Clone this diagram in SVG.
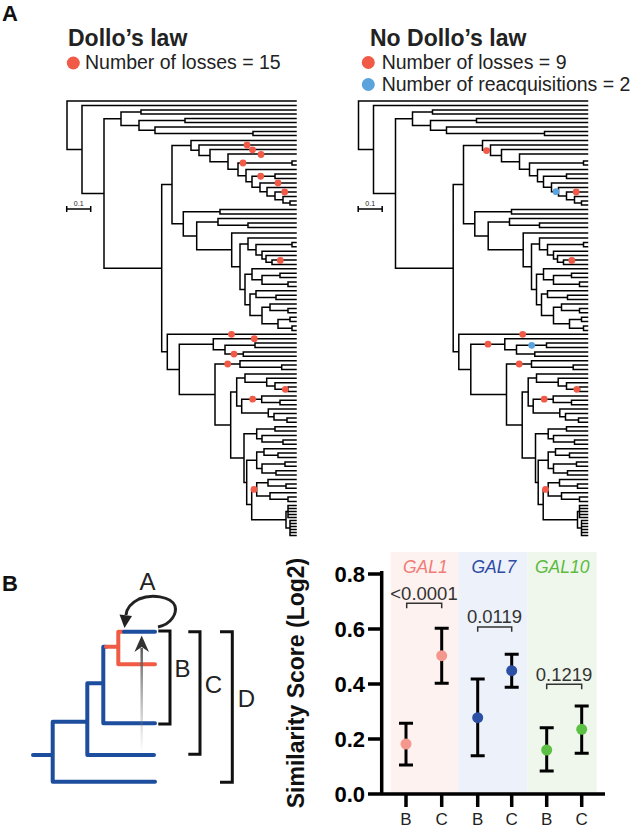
<svg xmlns="http://www.w3.org/2000/svg" width="632" height="829" viewBox="0 0 632 829">
<style>
text{font-family:"Liberation Sans",Arial,sans-serif}
.t{fill:none;stroke:#000;stroke-width:1.5;stroke-linecap:square}
.r{fill:#F05A46}
.bl{fill:#5BA3DC}
.ttl{font-size:23px;font-weight:bold;fill:#222}
.lg{font-size:19.5px;fill:#222}
.pl{font-size:22px;font-weight:bold;fill:#111}
.bt{fill:none;stroke:#1D4E9E;stroke-width:4;stroke-linecap:round}
.rt{fill:none;stroke:#EF5B45;stroke-width:4;stroke-linecap:round}
.br{fill:none;stroke:#111;stroke-width:3}
.lt{font-size:24px;fill:#222;text-anchor:middle}
.ax{fill:none;stroke:#000;stroke-width:3.5}
.tk{font-size:22px;font-weight:bold;text-anchor:end;fill:#000}
.xl{font-size:17px;text-anchor:middle;fill:#222}
.eb{fill:none;stroke:#000;stroke-width:3}
.sg{fill:none;stroke:#333;stroke-width:1.5}
.sv{font-size:18.5px;text-anchor:middle;fill:#333}
.gal{font-size:17.5px;font-style:italic}
</style>
<defs>
<linearGradient id="ga" gradientUnits="userSpaceOnUse" x1="0" y1="752" x2="0" y2="645">
<stop offset="0" stop-color="#888" stop-opacity="0"/>
<stop offset="1" stop-color="#555" stop-opacity="1"/>
</linearGradient>
<g id="tree">
<path class="t" d="M67 101V149.5M67 101H296M67 149.5H82
M82 105.5V193.45M82 105.5H296M82 193.45H104
M104 118.7V268.2M104 118.7H121M104 268.2H161.7
M121 112V125.4M121 112H141M121 125.4H139
M141 110V114M141 110H296M141 114H296
M139 120.5V130.25M139 120.5H185M139 130.25H155
M185 118.5V122.5M185 118.5H296M185 122.5H296
M155 127V133.5M155 127H296M155 133.5H253
M253 131.5V135.5M253 131.5H296M253 135.5H296
M161.7 184.6V351.85M161.7 184.6H172M161.7 351.85H167.3
M172 145.4V223.8M172 145.4H191M172 223.8H183.3
M191 140.5V150.3M191 140.5H296M191 150.3H199
M199 145V155.6M199 145H296M199 155.6H210
M210 149.5V161.7M210 149.5H296M210 161.7H228
M228 154V169.3M228 154H296M228 169.3H238
M238 163V175.65M238 163H292M238 175.65H246
M292 161V165M292 161H296M292 165H296
M246 169.5V181.8M246 169.5H296M246 181.8H252
M252 176.25V187.35M252 176.25H275M252 187.35H260
M275 174V178.5M275 174H296M275 178.5H296
M260 183V191.7M260 183H296M260 191.7H267
M267 187.5V195.9M267 187.5H296M267 195.9H275
M275 192V199.75M275 192H296M275 199.75H283
M283 196.5V203M283 196.5H296M283 203H290
M290 201V205M290 201H296M290 205H296
M183.3 211.75V235.9M183.3 211.75H220M183.3 235.9H196.7
M220 209.5V214M220 209.5H296M220 214H296
M196.7 221.9V249.85M196.7 221.9H218M196.7 249.85H231.7
M218 218.5V225.25M218 218.5H296M218 225.25H248
M248 223V227.5M248 223H296M248 227.5H296
M231.7 233V266.7M231.7 233H296M231.7 266.7H240
M240 243.9V289.55M240 243.9H248M240 289.55H245
M248 238V249.8M248 238H296M248 249.8H256
M256 244.6V255.05M256 244.6H292M256 255.05H262
M292 242.4V246.8M292 242.4H296M292 246.8H296
M262 251.2V258.9M262 251.2H296M262 258.9H266
M266 255.6V262.2M266 255.6H296M266 262.2H272
M272 260V264.4M272 260H296M272 264.4H296
M245 274.3V304.8M245 274.3H252M245 304.8H250
M252 268.8V279.8M252 268.8H296M252 279.8H262
M262 275.4V284.2M262 275.4H280M262 284.2H288
M280 273.2V277.6M280 273.2H296M280 277.6H296
M288 282V286.4M288 282H296M288 286.4H296
M250 294.1V315.55M250 294.1H256M250 315.55H262
M256 290.8V297.4M256 290.8H296M256 297.4H276
M276 295.2V299.6M276 295.2H296M276 299.6H296
M262 307.3V323.8M262 307.3H270M262 323.8H278
M270 304V310.6M270 304H296M270 310.6H288
M288 308.4V312.8M288 308.4H296M288 312.8H296
M278 319.4V328.2M278 319.4H290M278 328.2H292
M290 317.2V321.6M290 317.2H296M290 321.6H296
M292 326V330.4M292 326H296M292 330.4H296
M167.3 334.3V369.4M167.3 334.3H296M167.3 369.4H179.3
M179.3 344.2V394.55M179.3 344.2H213.3M179.3 394.55H215
M213.3 338.7V349.7M213.3 338.7H296M213.3 349.7H225
M225 345.3V354.1M225 345.3H255M225 354.1H243.3
M255 343.1V347.5M255 343.1H296M255 347.5H296
M243.3 351.9V356.3M243.3 351.9H296M243.3 356.3H296
M215 364V425.1M215 364H240M215 425.1H230.7
M240 360.7V367.3M240 360.7H296M240 367.3H281.7
M281.7 365.1V369.5M281.7 365.1H296M281.7 369.5H296
M230.7 392.05V458.1M230.7 392.05H236.7M230.7 458.1H244
M236.7 378V406.1M236.7 378H245M236.7 406.1H241.7
M245 373.9V382.15M245 373.9H296M245 382.15H266.7
M266.7 378.3V386M266.7 378.3H296M266.7 386H275
M275 382.7V389.3M275 382.7H296M275 389.3H288
M288 387.1V391.5M288 387.1H296M288 391.5H296
M241.7 399.2V412.95M241.7 399.2H261.7M241.7 412.95H268.3
M261.7 395.9V402.5M261.7 395.9H296M261.7 402.5H280
M280 400.3V404.7M280 400.3H296M280 404.7H296
M268.3 409.1V416.8M268.3 409.1H296M268.3 416.8H274
M274 413.5V420.1M274 413.5H296M274 420.1H287
M287 417.9V422.3M287 417.9H296M287 422.3H296
M244 433.85V482.4M244 433.85H256.7M244 482.4H246.7
M256.7 428.9V438.8M256.7 428.9H275M256.7 438.8H262
M275 426.7V431.1M275 426.7H296M275 431.1H296
M262 435.5V442.1M262 435.5H296M262 442.1H283
M283 439.9V444.3M283 439.9H296M283 444.3H296
M246.7 460.25V504.6M246.7 460.25H256.7M246.7 504.6H251.7
M256.7 452V468.5M256.7 452H264M256.7 468.5H262
M264 448.7V455.3M264 448.7H296M264 455.3H278
M278 453.1V457.5M278 453.1H296M278 457.5H296
M262 464.1V472.9M262 464.1H285M262 472.9H276
M285 461.9V466.3M285 461.9H296M285 466.3H296
M276 470.7V475.1M276 470.7H296M276 475.1H296
M251.7 489.4V519.75M251.7 489.4H256.7M251.7 519.75H286
M256.7 482.8V496M256.7 482.8H268M256.7 496H270
M268 479.5V486.1M268 479.5H296M268 486.1H286
M286 483.9V488.3M286 483.9H296M286 488.3H296
M270 492.7V499.3M270 492.7H296M270 499.3H288
M288 497.1V501.5M288 497.1H296M288 501.5H296
M286 511.5V528M286 511.5H288M286 528H290
M288 505.5V517.5M288 505.5H296M288 508.5H296M288 511.5H296M288 514.5H296M288 517.5H296
M290 520.5V535.5M290 520.5H296M290 523.5H296M290 526.5H296M290 529.5H296M290 532.5H296M290 535.5H296"/>
<path class="t" d="M66.7 209H90.7M66.7 206.8V211.2M90.7 206.8V211.2"/>
<text x="78.7" y="206" style="font-size:7px;text-anchor:middle;fill:#222">0.1</text>
</g>
</defs>

<text id="labelA" class="pl" x="2" y="21">A</text>

<g id="left-panel">
<text class="ttl" x="68" y="46">Dollo’s law</text>
<circle class="r" cx="73.3" cy="63" r="6.5"/>
<text class="lg" x="85" y="69.3">Number of losses = 15</text>
<use id="tree-left" href="#tree"/>
<g id="losses-left" class="r">
<circle cx="247" cy="145" r="3.4"/>
<circle cx="252.5" cy="149.8" r="3.4"/>
<circle cx="261" cy="154.5" r="3.4"/>
<circle cx="243" cy="163" r="3.4"/>
<circle cx="260.7" cy="176.25" r="3.4"/>
<circle cx="278" cy="183" r="3.4"/>
<circle cx="284.7" cy="192" r="3.4"/>
<circle cx="280.3" cy="260.5" r="3.4"/>
<circle cx="231.5" cy="334.3" r="3.4"/>
<circle cx="254.3" cy="338.7" r="3.4"/>
<circle cx="234" cy="354.1" r="3.4"/>
<circle cx="227.7" cy="364" r="3.4"/>
<circle cx="285.3" cy="389.3" r="3.4"/>
<circle cx="252.7" cy="399.2" r="3.4"/>
<circle cx="254" cy="489.4" r="3.4"/>
</g>
</g>

<g id="right-panel">
<text class="ttl" x="370" y="45.5">No Dollo’s law</text>
<circle class="r" cx="368.3" cy="62.5" r="6.5"/>
<text class="lg" x="381.7" y="69.3">Number of losses = 9</text>
<circle class="bl" cx="368.3" cy="84.5" r="6.5"/>
<text class="lg" x="381.7" y="91">Number of reacquisitions = 2</text>
<use id="tree-right" href="#tree" transform="translate(291.5,0)"/>
<g id="losses-right" class="r">
<circle cx="486.5" cy="150.6" r="3.4"/>
<circle cx="576.2" cy="192" r="3.4"/>
<circle cx="571.8" cy="260.5" r="3.4"/>
<circle cx="522.7" cy="334.3" r="3.4"/>
<circle cx="488" cy="344.2" r="3.4"/>
<circle cx="519.2" cy="364" r="3.4"/>
<circle cx="576.8" cy="389.3" r="3.4"/>
<circle cx="544.2" cy="399.2" r="3.4"/>
<circle cx="545.5" cy="489.4" r="3.4"/>
</g>
<g id="reacq-right" class="bl">
<circle cx="556" cy="191.7" r="3.4"/>
<circle cx="531.7" cy="345.3" r="3.4"/>
</g>
</g>

<text id="labelB" class="pl" x="2" y="591">B</text>

<g id="schematic">
<g id="schem-tree">
<path class="bt" d="M33 755H52.7M52.7 721.7V781.7M52.7 781.7H155M52.7 721.7H87.3M87.3 683.3V755M87.3 755H154M87.3 683.3H103.3M103.3 646.7V723.3M103.3 723.3H155M103.3 646.7H106"/>
<path class="rt" d="M106 646.7H118.3M118.3 631.7V664.3M118.3 664.3H155M118.3 631.7H123"/>
<path class="bt" d="M124 631.7H155"/>
</g>
<g id="connectors">
<path d="M141.7 752V648" fill="none" stroke="url(#ga)" stroke-width="2.5"/>
<path d="M141.7 635.5L149 652L141.7 647L134.4 652Z" fill="#333"/>
<path d="M158 627C172 624 177 613 175 606C171 596 151 594 139 599C131 603 126.5 609 126 615" fill="none" stroke="#222" stroke-width="3"/>
<path d="M119.5 614.5L132 616L124.5 628Z" fill="#222"/>
<path class="br" d="M158.3 631H170V724H158.3"/>
<path class="br" d="M188.3 631.7H200V754.3H188.3"/>
<path class="br" d="M220 631.7H232.3V782.3H220"/>
</g>
<text class="lt" x="147.5" y="590">A</text>
<text class="lt" x="182.5" y="677">B</text>
<text class="lt" x="213.5" y="693">C</text>
<text class="lt" x="246.5" y="707">D</text>
</g>

<g id="chart">
<rect x="390.7" y="552" width="67.6" height="242" fill="#FDF2EF"/>
<rect x="458.3" y="552" width="69.4" height="242" fill="#EDF1F9"/>
<rect x="527.7" y="552" width="69" height="242" fill="#EFF7EC"/>
<text class="gal" x="403" y="573" fill="#F07C78">GAL1</text>
<text class="gal" x="471.5" y="573" fill="#2E4BA5">GAL7</text>
<text class="gal" x="535" y="573" fill="#5DBB3F">GAL10</text>
<path class="ax" d="M381.7 571V795.7M380 794H605M368 794H381.7M368 739H381.7M368 684H381.7M368 629H381.7M368 574H381.7M406 794V807M441.7 794V807M477.7 794V807M511.7 794V807M546.7 794V807M581.7 794V807"/>
<text class="tk" x="365" y="802">0.0</text>
<text class="tk" x="365" y="747">0.2</text>
<text class="tk" x="365" y="692">0.4</text>
<text class="tk" x="365" y="637">0.6</text>
<text class="tk" x="365" y="582">0.8</text>
<text class="xl" x="406" y="825">B</text>
<text class="xl" x="441.7" y="825">C</text>
<text class="xl" x="477.7" y="825">B</text>
<text class="xl" x="511.7" y="825">C</text>
<text class="xl" x="546.7" y="825">B</text>
<text class="xl" x="581.7" y="825">C</text>
<text transform="translate(304,683) rotate(-90)" style="font-size:23px;font-weight:bold;text-anchor:middle;fill:#111">Similarity Score (Log2)</text>
<path class="eb" d="M406 723.3V765M399 723.3H413M399 765H413
M441.7 628.3V683.3M434.7 628.3H448.7M434.7 683.3H448.7
M477.7 679V755.7M470.7 679H484.7M470.7 755.7H484.7
M511.7 654.3V687.3M504.7 654.3H518.7M504.7 687.3H518.7
M546.7 727.7V771M539.7 727.7H553.7M539.7 771H553.7
M581.7 706V753.3M574.7 706H588.7M574.7 753.3H588.7"/>
<circle cx="406" cy="744" r="5.5" fill="#F4978E"/>
<circle cx="441.7" cy="655.7" r="5.5" fill="#F4978E"/>
<circle cx="477.7" cy="717.7" r="5.5" fill="#2B4FA5"/>
<circle cx="511.7" cy="670.7" r="5.5" fill="#2B4FA5"/>
<circle cx="546.7" cy="750" r="5.5" fill="#5CC044"/>
<circle cx="581.7" cy="729.3" r="5.5" fill="#5CC044"/>
<path class="sg" d="M406.7 608.3V603.3H441.7V608.3M477.7 631.7V627H511.7V631.7M546.7 689.3V684.3H581.7V689.3"/>
<text class="sv" x="424" y="600">&lt;0.0001</text>
<text class="sv" x="494.5" y="623.3">0.0119</text>
<text class="sv" x="564" y="680.7">0.1219</text>
</g>
</svg>
